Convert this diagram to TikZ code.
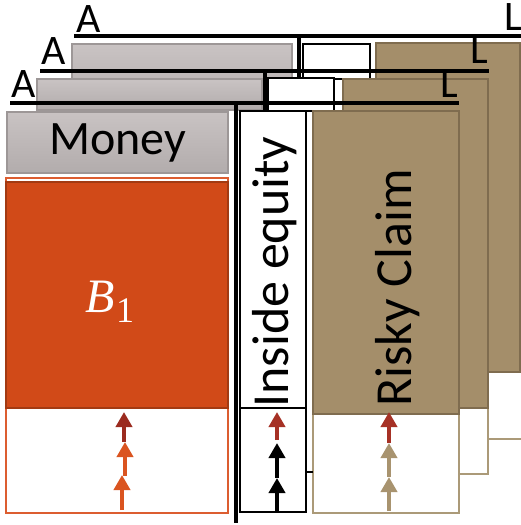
\documentclass[tikz,border=0pt]{standalone}
\usepackage{fontspec}
\setmainfont{Carlito}
\newfontfamily\symbolface{Liberation Serif}
\usetikzlibrary{arrows.meta}

\definecolor{moneytop}{HTML}{C9C3C3}
\definecolor{moneybot}{HTML}{B2ACAC}
\definecolor{moneyedge}{HTML}{9D9797}
\definecolor{bankfill}{HTML}{D14A18}
\definecolor{bankedge}{HTML}{A23A12}
\definecolor{bankline}{HTML}{DC5D30}
\definecolor{flowor}{HTML}{DA5420}
\definecolor{flowdk}{HTML}{9B2B1F}
\definecolor{flowrd}{HTML}{A63125}
\definecolor{claimfill}{HTML}{A48E6A}
\definecolor{claimedge}{HTML}{7F6C4F}
\definecolor{claimline}{HTML}{AB9A78}
\definecolor{flowtan}{HTML}{A8936F}

\begin{document}
\begin{tikzpicture}[x=1pt,y=-1pt,
  rule/.style={line width=4pt,line cap=butt},
  divider/.style={line width=3.6pt},
  sidelabel/.style={font=\fontsize{42}{42}\selectfont,inner sep=0pt},
  bigtext/.style={font=\fontsize{52}{52}\selectfont,inner sep=0pt},
  block/.style={anchor=north west,inner sep=0pt,outer sep=0pt},
  moneybox/.style={block,top color=moneytop,bottom color=moneybot,draw=moneyedge,line width=1.5pt},
  bankbox/.style={block,fill=bankfill,draw=bankedge,line width=1.8pt},
  bankpot/.style={block,fill=white,draw=bankline,line width=2pt},
  equitybox/.style={block,fill=white,draw=black,line width=2pt},
  claimbox/.style={block,fill=claimfill,draw=claimedge,line width=2pt},
  claimpot/.style={block,fill=white,draw=claimline,line width=2pt},
  flow/.style={line width=4pt,-{Triangle[width=16pt,length=15pt]}},
]
\useasboundingbox (0,0) rectangle (521,525);

% ---------- back balance sheet ----------
\coordinate (bl0) at (74,36);
\coordinate (bl1) at (524,36);
\draw[rule] (bl0) -- (bl1);
\node[sidelabel,anchor=base] (bA) at (88.5,32) {A};
\node[sidelabel,anchor=base west] (bL) at (504,30) {L};
\node[moneybox,minimum width=220pt,minimum height=66pt] (bmoney) at (72,44) {};
\coordinate (bd0) at (299,36);
\coordinate (bd1) at (299,79);
\draw[divider] (bd0) -- (bd1);
\node[equitybox,minimum width=67pt,minimum height=35pt] (beq) at (303,44) {};
\node[claimpot,minimum width=147pt,minimum height=396pt] (bpot) at (376,43) {};
\node[claimbox,minimum width=144pt,minimum height=329pt] (bclaim) at (376,43) {};

% ---------- middle balance sheet ----------
\coordinate (ml0) at (40,71);
\coordinate (ml1) at (489,71);
\draw[rule] (ml0) -- (ml1);
\node[sidelabel,anchor=base] (mA) at (53.5,64) {A};
\node[sidelabel,anchor=base west] (mL) at (470,63) {L};
\node[moneybox,minimum width=225pt,minimum height=31pt] (mmoney) at (37,79) {};
\coordinate (md0) at (265,71);
\coordinate (md1) at (265,111);
\draw[divider] (md0) -- (md1);
\node[equitybox,minimum width=66pt,minimum height=33pt] (meq) at (268,78) {};
\node[claimpot,minimum width=145pt,minimum height=395pt] (mpot) at (343,79) {};
\node[claimbox,minimum width=145pt,minimum height=329pt] (mclaim) at (343,79) {};

% ---------- front balance sheet ----------
\coordinate (fl0) at (10,103);
\coordinate (fl1) at (459,103);
\draw[rule] (fl0) -- (fl1);
\node[sidelabel,anchor=base] (fA) at (23.5,97) {A};
\node[sidelabel,anchor=base west] (fL) at (440,97) {L};

\node[moneybox,minimum width=221pt,minimum height=61pt] (money) at (7,112) {};
\node[font=\fontsize{48}{48}\selectfont,inner sep=0pt] (moneytxt) at (money.center) {Money};

\node[bankpot,minimum width=222pt,minimum height=335pt] (bpotf) at (6,178) {};
\node[bankbox,minimum width=222pt,minimum height=226pt] (bank) at (6,182) {};
\node[text=white,inner sep=0pt,anchor=base] (banktxt) at (110,312)
  {\symbolface\fontsize{48}{48}\selectfont\itshape B\kern1pt\raisebox{-10pt}{\upshape\fontsize{36}{36}\selectfont 1}};

\coordinate (fd0) at (236,103);
\coordinate (fd1) at (236,523);
\draw[divider] (fd0) -- (fd1);

\node[equitybox,minimum width=66pt,minimum height=401pt] (eqpot) at (240,111) {};
\node[equitybox,minimum width=66pt,minimum height=297pt] (equity) at (240,111) {};
\node[bigtext,rotate=90,anchor=base] (eqtxt) at (288,272) {Inside equity};

\node[claimpot,minimum width=146pt,minimum height=402pt] (cpot) at (313,111) {};
\node[claimbox,minimum width=146pt,minimum height=303pt] (claim) at (313,111) {};
\node[bigtext,rotate=90,anchor=base] (claimtxt) at (411,288) {Risky Claim};

\coordinate (tie) at (309,472);
\draw[line width=1.6pt] (eqpot.east |- tie) -- (cpot.west |- tie);

% ---------- flows into the bank ----------
\coordinate (b0) at (122,510); \coordinate (b1) at (122,475);
\coordinate (b2) at (125,476); \coordinate (b3) at (125,442);
\coordinate (b4) at (124,442); \coordinate (b5) at (124,412);
\draw[flow,flowor] (b0) -- (b1);
\draw[flow,flowor] (b2) -- (b3);
\draw[flow,flowdk] (b4) -- (b5);

% ---------- flows into inside equity ----------
\coordinate (e0) at (277,511); \coordinate (e1) at (277,478);
\coordinate (e2) at (277,478); \coordinate (e3) at (277,443);
\coordinate (e4) at (277,440); \coordinate (e5) at (277,412);
\draw[flow,black] (e0) -- (e1);
\draw[flow,black] (e2) -- (e3);
\draw[flow,flowrd] (e4) -- (e5);

% ---------- flows into the risky claim ----------
\coordinate (r0) at (389,511); \coordinate (r1) at (389,477);
\coordinate (r2) at (389,477); \coordinate (r3) at (389,443);
\coordinate (r4) at (389,443); \coordinate (r5) at (389,412);
\draw[flow,flowtan] (r0) -- (r1);
\draw[flow,flowtan] (r2) -- (r3);
\draw[flow,flowrd] (r4) -- (r5);
\end{tikzpicture}
\end{document}
